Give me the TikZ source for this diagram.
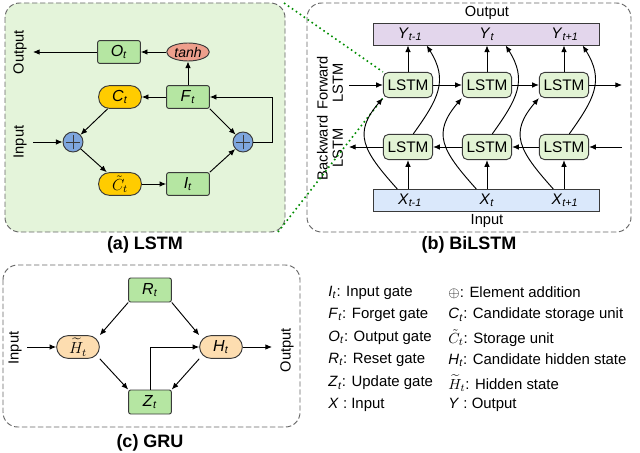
\documentclass[tikz,border=0pt]{standalone}
\usepackage{amsmath, amssymb}
\usepackage{fontspec}
\setmainfont{Liberation Sans}
\usetikzlibrary{shapes.geometric, arrows.meta}

\definecolor{edge}{HTML}{3A3A3A}
\definecolor{panelgreen}{HTML}{E4F4DA}
\definecolor{gategreen}{HTML}{B5E6A2}
\definecolor{cellyellow}{HTML}{FFCC00}
\definecolor{tanhred}{HTML}{EE9F8C}
\definecolor{addblue}{HTML}{7EA6DE}
\definecolor{lstmgreen}{HTML}{E2F3D4}
\definecolor{barpurple}{HTML}{E3D6EC}
\definecolor{barblue}{HTML}{DAE8FB}
\definecolor{statepeach}{HTML}{FDDDB0}

\newcommand{\tsub}[2]{\textit{#1}\textsubscript{\textit{#2}}}

\begin{document}
\begin{tikzpicture}[x=0.75pt, y=-0.75pt, >={Latex[length=5pt, width=4.2pt]}, line width=0.7pt,
    panel/.style={draw=gray!80!black, dash pattern=on 4pt off 2pt, rounded corners=11pt},
    captext/.style={font=\bfseries\fontsize{13.5}{16}\selectfont},
    lab/.style={font=\fontsize{11}{11.5}\selectfont, inner sep=0pt},
    gatebox/.style={draw=edge, fill=gategreen, rounded corners=1.5pt, minimum width=32pt, minimum height=17pt, inner sep=0pt, font=\fontsize{12}{14}\selectfont},
    cellnode/.style={gatebox, fill=cellyellow, rounded corners=8pt},
    tanhnode/.style={ellipse, draw=edge, fill=tanhred, minimum width=32pt, minimum height=13.5pt, inner sep=0pt, font=\itshape\fontsize{10.5}{12}\selectfont},
    addnode/.style={circle, draw=edge, fill=addblue, minimum size=15pt, inner sep=0pt,
        path picture={\draw[line width=0.6pt] ([xshift=-5.5pt]path picture bounding box.center) -- ([xshift=5.5pt]path picture bounding box.center)
            ([yshift=-5.5pt]path picture bounding box.center) -- ([yshift=5.5pt]path picture bounding box.center);}},
    lstmbox/.style={draw=edge, fill=lstmgreen, rounded corners=4pt, minimum width=37pt, minimum height=19pt, inner sep=0pt, font=\fontsize{11.5}{13}\selectfont},
    seqbar/.style={draw=edge, minimum width=169pt, minimum height=16.5pt, inner sep=0pt},
    seqlab/.style={font=\fontsize{11.5}{13}\selectfont, inner sep=0pt},
    grugate/.style={gatebox, minimum height=18pt},
    grustate/.style={gatebox, fill=statepeach, rounded corners=8.5pt},
    dotline/.style={green!55!black, line width=1.2pt, dash pattern=on 1.2pt off 2.4pt},
    legendtext/.style={anchor=west, inner sep=0pt, font=\fontsize{11.2}{13}\selectfont}]
    \useasboundingbox (0,0) rectangle (640,453);

    \draw[panel, fill=panelgreen] (5,3) rectangle (285,232);
    \node[captext] (capa) at (145,245) {(a) LSTM};
    \node[gatebox] (ot) at (119,52) {\tsub{O}{t}};
    \node[tanhnode] (th) at (188,52) {tanh};
    \node[gatebox] (ft) at (188,97) {\tsub{F}{t}};
    \node[cellnode] (ct) at (120,97) {\tsub{C}{t}};
    \node[addnode] (pl) at (73,142) {};
    \node[addnode] (pr) at (243,142) {};
    \node[cellnode] (cc) at (120,184) {$\tilde{C}_t$};
    \node[gatebox] (it) at (188,184) {\tsub{I}{t}};
    \node[lab, rotate=90] (outa) at (20,52) {Output};
    \node[lab, rotate=90] (ina) at (20,142) {Input};
    \coordinate (outaend) at (33,52);
    \coordinate (inastart) at (33,142);
    \coordinate (loop) at (272,142);
    \draw[->] (ot) -- (outaend);
    \draw[->] (inastart) -- (pl);
    \draw[->] (th) -- (ot);
    \draw[->] (ft) -- (th);
    \draw[->] (ft) -- (ct);
    \draw[->] (ct) -- (pl);
    \draw[->] (pl) -- (cc);
    \draw[->] (cc) -- (it);
    \draw[->] (it.north east) -- (pr);
    \draw[->] (ft.south east) -- (pr);
    \draw[->] (pr) -- (loop) |- (ft.east);

    \draw[panel] (307,3) rectangle (631,232);
    \node[captext] (capb) at (469,245) {(b) BiLSTM};
    \node[lab] (outb) at (487,13) {Output};
    \node[lab] (inb) at (487,221) {Input};
    \node[lab, rotate=90, align=center] (fwd) at (330,83) {Forward\\LSTM};
    \node[lab, rotate=90, align=center] (bwd) at (330,148) {Backward\\LSTM};
    \coordinate (dta) at (284,3);
    \coordinate (dtb) at (278,232);
    \node[seqbar, fill=barpurple] (ybar) at (486.5,34) {};
    \node[seqbar, fill=barblue] (xbar) at (486.5,200.5) {};
    \node[seqlab] (y1) at (410,34) {\tsub{Y}{t-1}};
    \node[seqlab] (y2) at (487,34) {\tsub{Y}{t}};
    \node[seqlab] (y3) at (565,34) {\tsub{Y}{t+1}};
    \node[seqlab] (x1) at (410,200) {\tsub{X}{t-1}};
    \node[seqlab] (x2) at (487,200) {\tsub{X}{t}};
    \node[seqlab] (x3) at (565,200) {\tsub{X}{t+1}};
    \node[lstmbox] (f1) at (408,85) {LSTM};
    \node[lstmbox] (f2) at (487,85) {LSTM};
    \node[lstmbox] (f3) at (564,85) {LSTM};
    \node[lstmbox] (b1) at (408,147) {LSTM};
    \node[lstmbox] (b2) at (487,147) {LSTM};
    \node[lstmbox] (b3) at (564,147) {LSTM};
    \draw[dotline] (dta) -- (f1.north west);
    \draw[dotline] (dtb) -- (f1.south west);
    \coordinate (fin) at (349,85);
    \coordinate (fout) at (622,85);
    \coordinate (bin) at (622,147);
    \coordinate (bout) at (349,147);
    \draw[->] (fin) -- (f1);
    \draw[->] (f1) -- (f2);
    \draw[->] (f2) -- (f3);
    \draw[->] (f3) -- (fout);
    \draw[->] (bin) -- (b3);
    \draw[->] (b3) -- (b2);
    \draw[->] (b2) -- (b1);
    \draw[->] (b1) -- (bout);
    \draw[->] (f1) -- (f1 |- ybar.south);
    \draw[->] (f2) -- (f2 |- ybar.south);
    \draw[->] (f3) -- (f3 |- ybar.south);
    \draw[->] (b1 |- xbar.north) -- (b1);
    \draw[->] (b2 |- xbar.north) -- (b2);
    \draw[->] (b3 |- xbar.north) -- (b3);
    \draw[->] ([xshift=-8pt]b1 |- xbar.north) .. controls +(-35,-39) and +(-30,35) .. (f1.south west);
    \draw[->] ([xshift=-8pt]b2 |- xbar.north) .. controls +(-35,-39) and +(-30,35) .. (f2.south west);
    \draw[->] ([xshift=-8pt]b3 |- xbar.north) .. controls +(-35,-39) and +(-30,35) .. (f3.south west);
    \draw[->] ([xshift=4pt]b1.north) .. controls +(25,-35) and +(22,35) .. ([xshift=14pt]f1 |- ybar.south);
    \draw[->] ([xshift=4pt]b2.north) .. controls +(25,-35) and +(22,35) .. ([xshift=14pt]f2 |- ybar.south);
    \draw[->] ([xshift=4pt]b3.north) .. controls +(25,-35) and +(22,35) .. ([xshift=14pt]f3 |- ybar.south);

    \draw[panel] (3,265) rectangle (300,427);
    \node[captext] (capc) at (150,443) {(c) GRU};
    \node[grugate] (rt) at (150,290) {\tsub{R}{t}};
    \node[grugate] (zt) at (150,402) {\tsub{Z}{t}};
    \node[grustate] (hh) at (78,347) {$\widetilde{H}_t$};
    \node[grustate] (ht) at (221,347) {\tsub{H}{t}};
    \node[lab, rotate=90] (inc) at (15,348) {Input};
    \node[lab, rotate=90] (outc) at (287,350) {Output};
    \coordinate (incstart) at (27,347);
    \coordinate (outcend) at (272,347);
    \draw[->] (incstart) -- (hh);
    \draw[->] (ht) -- (outcend);
    \draw[->] (rt.south west) -- (hh.north east);
    \draw[->] (rt.south east) -- (ht.north west);
    \draw[->] (hh.south east) -- (zt.north west);
    \draw[->] (ht.south west) -- (zt.north east);
    \draw[->] (zt.north) |- (ht.west);

    \node[legendtext] (l1) at (328,293) {\tsub{I}{t}: Input gate};
    \node[legendtext] (l2) at (328,315) {\tsub{F}{t}: Forget gate};
    \node[legendtext] (l3) at (328,338) {\tsub{O}{t}: Output gate};
    \node[legendtext] (l4) at (328,360) {\tsub{R}{t}: Reset gate};
    \node[legendtext] (l5) at (328,383) {\tsub{Z}{t}: Update gate};
    \node[legendtext] (l6) at (328,405) {\textit{X} : Input};
    \node[legendtext] (r1) at (448,293) {$\oplus$: Element addition};
    \node[legendtext] (r2) at (448,315) {\tsub{C}{t}: Candidate storage unit};
    \node[legendtext] (r3) at (448,338) {$\tilde{C}_t$: Storage unit};
    \node[legendtext] (r4) at (448,360) {\tsub{H}{t}: Candidate hidden state};
    \node[legendtext] (r5) at (448,383) {$\widetilde{H}_t$: Hidden state};
    \node[legendtext] (r6) at (448,405) {\textit{Y} : Output};
\end{tikzpicture}
\end{document}
